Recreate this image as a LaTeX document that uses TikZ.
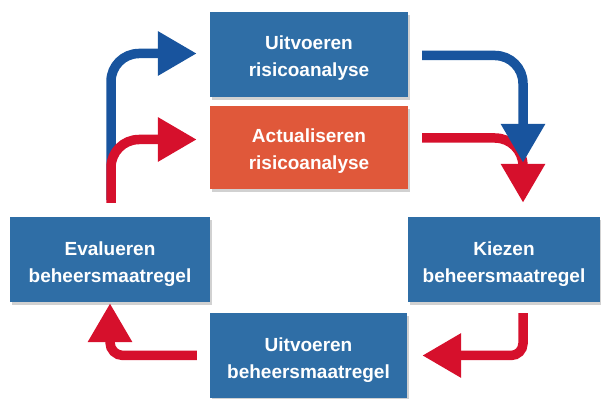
\documentclass[tikz,border=0pt]{standalone}
\usepackage{fontspec}
\setmainfont{Liberation Sans}
\usetikzlibrary{arrows.meta,shadows}
\definecolor{boxblue}{RGB}{47,110,166}
\definecolor{boxorange}{RGB}{224,88,58}
\definecolor{arrblue}{RGB}{24,84,158}
\definecolor{arrred}{RGB}{214,16,44}
\begin{document}
\begin{tikzpicture}[x=1pt,y=1pt,
  stepbox/.style={rectangle, minimum height=85pt, inner sep=0pt,
    drop shadow={shadow xshift=2pt, shadow yshift=-3pt, fill=black, opacity=0.18}},
  steptext/.style={inner sep=0pt, text=white,
    font=\bfseries\fontsize{19}{27}\selectfont, align=center},
  flow/.style={line width=9.5pt, rounded corners=#1,
    -{Triangle[length=39pt,width=42pt]}},
  flow/.default=28pt]
\useasboundingbox (0,0) rectangle (601,398);
\node[stepbox, fill=boxblue, minimum width=198pt] (A) at (309,343.5) {};
\node[stepbox, fill=boxorange, minimum width=198pt, minimum height=83pt] (B) at (309,250.5) {};
\node[stepbox, fill=boxblue, minimum width=192pt] (C) at (504,138.5) {};
\node[stepbox, fill=boxblue, minimum width=197pt] (D) at (308.5,42.5) {};
\node[stepbox, fill=boxblue, minimum width=200pt] (E) at (110,138.5) {};
\node[steptext] (At) at ([yshift=-4pt]A.center) {Uitvoeren\\risicoanalyse};
\node[steptext] (Bt) at ([yshift=-4pt]B.center) {Actualiseren\\risicoanalyse};
\node[steptext] (Ct) at ([yshift=-5pt]C.center) {Kiezen\\beheersmaatregel};
\node[steptext] (Dt) at ([yshift=-5pt]D.center) {Uitvoeren\\beheersmaatregel};
\node[steptext] (Et) at ([yshift=-5pt]E.center) {Evalueren\\beheersmaatregel};
% top left
\draw[flow, arrblue] ([shift={(1pt,17pt)}]E.north) |- ([shift={(-13pt,1pt)}]A.west);
\draw[flow, arrred] ([shift={(1pt,14pt)}]E.north) |- ([shift={(-13pt,8pt)}]B.west);
% top right
\draw[flow, arrred] ([shift={(14pt,9.5pt)}]B.east) -| ([shift={(19pt,14pt)}]C.north);
\draw[flow, arrblue] ([shift={(14pt,-1pt)}]A.east) -| ([shift={(19pt,54pt)}]C.north);
% bottom
\draw[flow=12pt, arrred] ([shift={(19pt,-11pt)}]C.south) |- ([xshift=15pt]D.east);
\draw[flow=13pt, arrred] ([xshift=-13pt]D.west) -| ([yshift=-1pt]E.south);
\end{tikzpicture}
\end{document}
